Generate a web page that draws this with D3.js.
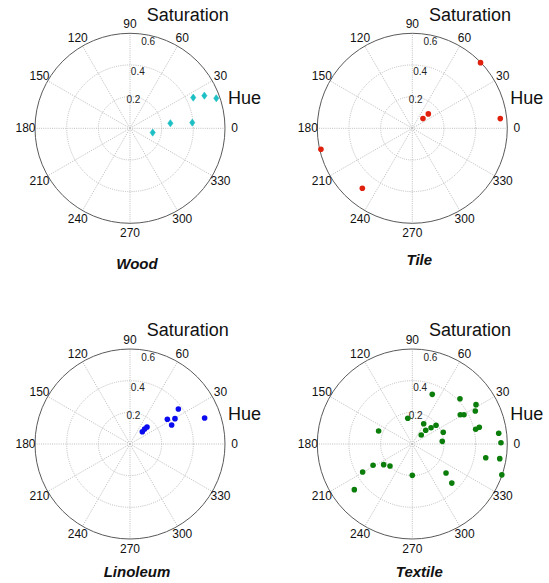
<!DOCTYPE html>
<html><head><meta charset="utf-8">
<script src="https://cdn.jsdelivr.net/npm/d3@7"></script>
<style>
body{margin:0;background:#fff;}
svg{display:block;font-family:"Liberation Sans",Arial,sans-serif;}
</style></head>
<body><svg id="c" width="549" height="583"></svg>
<script>
// ---- data ----
const categories = ["Wood", "Tile", "Linoleum", "Textile"];
const woodHue = [349.3, 7.1, 5.2, 25.9, 23.7, 19.2];
const woodSat = [0.146, 0.257, 0.395, 0.444, 0.513, 0.577];
const tileHue = [43.9, 6.3, 41.9, 42.2, 192.9, 230.2];
const tileSat = [0.598, 0.559, 0.136, 0.091, 0.592, 0.493];
const linoHue = [45, 45.6, 45, 33.5, 24.5, 29.4, 35.9, 19.2];
const linoSat = [0.110, 0.132, 0.152, 0.283, 0.289, 0.326, 0.377, 0.499];
const textHue = [68.1, 100, 60.7, 45, 45.6, 41, 38.3, 20.7, 5.1, 43.5, 31.4, 29.5, 31.7, 27.6, 13.1, 14,
                 7.1, 0.8, 349.4, 350.5, 341, 319.3, 315.3, 270, 224.6, 215.8, 208.5, 209.4, 218.2, 158.9];
const textSat = [0.338, 0.165, 0.147, 0.080, 0.121, 0.157, 0.191, 0.209, 0.190, 0.415, 0.355, 0.375, 0.473, 0.449, 0.411, 0.436,
                 0.550, 0.560, 0.472, 0.560, 0.598, 0.281, 0.351, 0.198, 0.198, 0.223, 0.282, 0.360, 0.466, 0.228];
const angleTicks = [0, 30, 60, 90, 120, 150, 180, 210, 240, 270, 300, 330];
const radialTicks = [0.2, 0.4, 0.6];
const rMax = 0.6;

// ---- layout / style ----
const hues = [woodHue, tileHue, linoHue, textHue];
const sats = [woodSat, tileSat, linoSat, textSat];
const colors = ["#1cbfc4", "#e0200c", "#0b0bef", "#0a7d0a"];
const markers = ["diamond", "circle", "circle", "circle"];
const layout = [
  {cx: 130, cy: 128.3, titleDy: 141},
  {cx: 412.3, cy: 128.3, titleDy: 136.5},
  {cx: 130, cy: 444, titleDy: 133.3},
  {cx: 412.3, cy: 444, titleDy: 133.3}
];
const R = 95;
const rLabelAng = [83, 82, 78];
const rLabelInset = [4, 7.2, 7.6];

const svg = d3.select("#c");
const r = d3.scaleLinear().domain([0, rMax]).range([0, R]);
const ang = d3.scaleLinear().domain([0, 360]).range([0, 2 * Math.PI]);

categories.forEach((name, i) => {
  const L = layout[i];
  const g = svg.append("g").attr("transform", `translate(${L.cx},${L.cy})`);
  const px = (h, s) => r(s) * Math.cos(ang(h));
  const py = (h, s) => -r(s) * Math.sin(ang(h));

  // spokes
  g.selectAll("line.spoke").data(angleTicks).enter().append("line")
    .attr("x1", 0).attr("y1", 0)
    .attr("x2", d => px(d, rMax)).attr("y2", d => py(d, rMax))
    .attr("stroke", "#bdbdbd").attr("stroke-width", 1).attr("stroke-dasharray", "1,1.2");
  // rings
  g.selectAll("circle.ring").data(radialTicks.slice(0, -1)).enter().append("circle")
    .attr("r", d => r(d)).attr("fill", "none")
    .attr("stroke", "#bdbdbd").attr("stroke-width", 1).attr("stroke-dasharray", "1,1.2");
  // outer
  g.append("circle").attr("r", r(rMax)).attr("fill", "none")
    .attr("stroke", "#5a5a5a").attr("stroke-width", 1);

  // radial labels
  g.selectAll("text.rl").data(radialTicks).enter().append("text")
    .attr("x", (d, k) => (r(d) - rLabelInset[k]) * Math.cos(ang(rLabelAng[k])))
    .attr("y", (d, k) => -(r(d) - rLabelInset[k]) * Math.sin(ang(rLabelAng[k])))
    .attr("text-anchor", "middle").attr("dominant-baseline", "middle")
    .attr("font-size", 10).attr("fill", "#222").text(d => d.toFixed(1));

  // angle labels
  g.selectAll("text.al").data(angleTicks).enter().append("text")
    .attr("x", d => 1.1 * R * Math.cos(ang(d)))
    .attr("y", d => -1.1 * R * Math.sin(ang(d)))
    .attr("text-anchor", "middle").attr("dominant-baseline", "central")
    .attr("font-size", 12).attr("fill", "#111").text(d => d);

  // axis names
  g.append("text").attr("x", 16.7).attr("y", -107.8).attr("font-size", 18).attr("fill", "#111").text("Saturation");
  g.append("text").attr("x", 98).attr("y", -24.3).attr("font-size", 18).attr("fill", "#111").text("Hue");

  // title
  g.append("text").attr("x", 7).attr("y", L.titleDy).attr("text-anchor", "middle")
    .attr("font-size", 15).attr("font-weight", "bold").attr("font-style", "italic")
    .attr("fill", "#111").text(name);

  // points
  const pts = hues[i].map((h, k) => ({h, s: sats[i][k]}));
  if (markers[i] === "diamond") {
    g.selectAll("path.pt").data(pts).enter().append("path")
      .attr("d", "M0,-3.6L2.6,0L0,3.6L-2.6,0Z")
      .attr("transform", d => `translate(${px(d.h, d.s)},${py(d.h, d.s)})`)
      .attr("fill", colors[i]).attr("stroke", colors[i]).attr("stroke-width", 0.6);
  } else {
    g.selectAll("circle.pt").data(pts).enter().append("circle")
      .attr("cx", d => px(d.h, d.s)).attr("cy", d => py(d.h, d.s))
      .attr("r", 2.8).attr("fill", colors[i]);
  }
});
</script></body></html>
